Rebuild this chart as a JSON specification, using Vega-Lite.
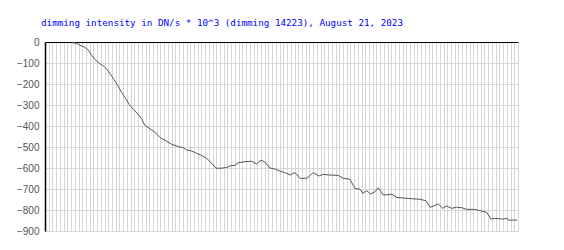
{
  "$schema": "https://vega.github.io/schema/vega-lite/v6.json",
  "autosize": "none",
  "width": 473,
  "height": 189,
  "padding": {"left": 45, "top": 42, "right": 46, "bottom": 19},
  "background": "white",
  "title": {
    "text": "dimming intensity in DN/s * 10^3 (dimming 14223), August 21, 2023",
    "anchor": "start",
    "frame": "group",
    "font": "DejaVu Sans Mono",
    "fontSize": 9.25,
    "fontWeight": "normal",
    "color": "#0000ff",
    "dx": -4,
    "offset": 9
  },
  "config": {
    "view": {"stroke": null},
    "axis": {"gridColor": "#d6d6d6", "gridWidth": 1, "gridOpacity": 1}
  },
  "data": {
    "values": [
      {"t": 7.2, "v": -3}, {"t": 8.5, "v": -6}, {"t": 9.4, "v": -16}, {"t": 10.6, "v": -24},
      {"t": 11.6, "v": -38}, {"t": 12.5, "v": -63}, {"t": 13.4, "v": -83}, {"t": 14.6, "v": -102},
      {"t": 15.7, "v": -114}, {"t": 16.6, "v": -130}, {"t": 17.6, "v": -154}, {"t": 18.5, "v": -178},
      {"t": 19.5, "v": -206}, {"t": 20.6, "v": -241}, {"t": 21.7, "v": -270}, {"t": 22.6, "v": -297},
      {"t": 23.7, "v": -321}, {"t": 25.0, "v": -344}, {"t": 26.0, "v": -368}, {"t": 26.8, "v": -397},
      {"t": 28.2, "v": -413}, {"t": 29.5, "v": -429}, {"t": 30.9, "v": -455}, {"t": 32.2, "v": -468},
      {"t": 34.0, "v": -487}, {"t": 35.8, "v": -498}, {"t": 37.1, "v": -503}, {"t": 38.0, "v": -514},
      {"t": 39.4, "v": -519}, {"t": 40.7, "v": -530}, {"t": 42.1, "v": -541}, {"t": 43.4, "v": -554},
      {"t": 44.8, "v": -578}, {"t": 45.9, "v": -601}, {"t": 47.4, "v": -601}, {"t": 48.8, "v": -597},
      {"t": 49.9, "v": -589}, {"t": 51.0, "v": -587}, {"t": 51.9, "v": -575}, {"t": 53.7, "v": -570},
      {"t": 55.5, "v": -568}, {"t": 56.8, "v": -581}, {"t": 58.0, "v": -562}, {"t": 59.3, "v": -575},
      {"t": 60.2, "v": -599}, {"t": 61.7, "v": -605}, {"t": 63.1, "v": -615}, {"t": 64.4, "v": -622},
      {"t": 65.8, "v": -633}, {"t": 67.1, "v": -622}, {"t": 68.5, "v": -649}, {"t": 70.3, "v": -649},
      {"t": 72.0, "v": -622}, {"t": 73.6, "v": -638}, {"t": 74.7, "v": -630}, {"t": 76.1, "v": -633},
      {"t": 78.7, "v": -635}, {"t": 80.1, "v": -649}, {"t": 81.9, "v": -654}, {"t": 83.2, "v": -697},
      {"t": 84.6, "v": -701}, {"t": 85.3, "v": -721}, {"t": 86.4, "v": -708}, {"t": 87.4, "v": -724},
      {"t": 88.6, "v": -713}, {"t": 89.5, "v": -694}, {"t": 90.8, "v": -729}, {"t": 93.1, "v": -725},
      {"t": 94.4, "v": -740}, {"t": 97.5, "v": -745}, {"t": 100.7, "v": -749}, {"t": 102.3, "v": -756},
      {"t": 103.4, "v": -787}, {"t": 104.3, "v": -781}, {"t": 105.6, "v": -771}, {"t": 106.8, "v": -792},
      {"t": 107.8, "v": -781}, {"t": 109.2, "v": -792}, {"t": 110.5, "v": -787}, {"t": 111.9, "v": -789},
      {"t": 113.2, "v": -797}, {"t": 115.4, "v": -797}, {"t": 117.2, "v": -805}, {"t": 118.6, "v": -811},
      {"t": 119.7, "v": -843}, {"t": 120.8, "v": -840}, {"t": 123.0, "v": -843}, {"t": 123.8, "v": -840},
      {"t": 124.6, "v": -848}, {"t": 126.8, "v": -848}
    ]
  },
  "resolve": {"axis": {"x": "independent"}},
  "layer": [
    {
      "mark": {"type": "line", "color": "#555555", "strokeWidth": 1, "interpolate": "linear"},
      "encoding": {
        "x": {
          "field": "t",
          "type": "quantitative",
          "scale": {"domain": [0, 127], "nice": false, "zero": false},
          "axis": {
            "orient": "bottom",
            "title": null,
            "labels": false,
            "ticks": false,
            "domain": false,
            "grid": true,
            "tickCount": 127
          }
        },
        "y": {
          "field": "v",
          "type": "quantitative",
          "scale": {"domain": [-900, 0], "nice": false},
          "axis": {
            "values": [0, -100, -200, -300, -400, -500, -600, -700, -800, -900],
            "labelOverlap": false,
            "labelBound": false,
            "labelFlush": false,
            "title": null,
            "grid": true,
            "ticks": false,
            "domain": true,
            "domainColor": "#000000",
            "domainWidth": 1.5,
            "labelFont": "Liberation Sans",
            "labelFontSize": 10,
            "labelColor": "#555555",
            "labelPadding": 6
          }
        }
      }
    },
    {
      "mark": {"type": "rule", "opacity": 0},
      "encoding": {
        "x": {
          "datum": 0,
          "type": "quantitative",
          "axis": {
            "orient": "top",
            "title": null,
            "labels": false,
            "ticks": false,
            "grid": false,
            "domain": true,
            "domainColor": "#000000",
            "domainWidth": 1.2
          }
        }
      }
    }
  ]
}
